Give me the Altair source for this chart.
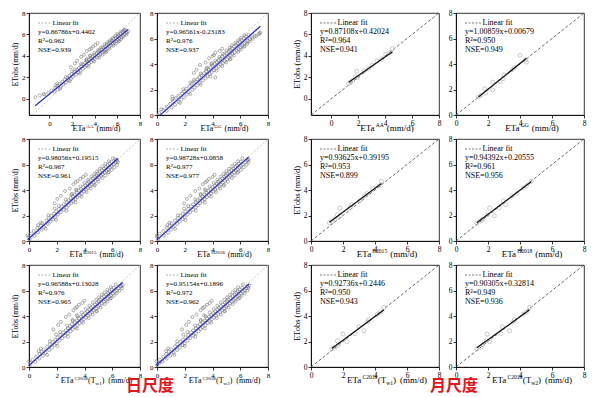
import altair as alt
import pandas as pd

SERIF = "Liberation Serif"

# ---------------- daily data (mm/d) ----------------
ETOBS_DAY = [
    0.15, 0.32, 0.41, 0.58, 0.66, 0.79, 0.88, 1.02, 1.10, 1.21,
    1.33, 1.38, 1.52, 1.60, 1.71, 1.79, 1.86, 1.98, 2.07, 2.14,
    2.26, 2.31, 2.45, 2.52, 2.63, 2.71, 2.80, 2.88, 2.97, 3.05,
    3.12, 3.21, 3.28, 3.36, 3.44, 3.51, 3.58, 3.66, 3.73, 3.80,
    3.87, 3.95, 4.02, 4.08, 4.16, 4.23, 4.30, 4.37, 4.43, 4.51,
    4.58, 4.64, 4.71, 4.78, 4.85, 4.91, 4.98, 5.04, 5.11, 5.17,
    5.24, 5.30, 5.37, 5.43, 5.50, 5.56, 5.62, 5.69, 5.75, 5.82,
    5.88, 5.95, 6.01, 6.08, 6.15, 6.22, 6.30, 6.41, 3.92, 4.45,
    4.88, 3.55, 4.12, 4.62, 5.02, 3.30, 2.95, 4.70, 5.20, 1.45,
    0.45, 0.95, 1.25, 1.65, 2.02, 2.38, 2.75, 3.02, 3.25, 3.48,
    3.62, 3.84, 3.98, 4.12, 4.28, 4.40, 4.55, 4.66, 4.80, 4.94,
    5.06, 5.14, 5.27, 5.35, 5.46, 5.58, 5.66, 5.78, 5.85, 5.98,
    6.05, 6.18, 6.26, 6.35, 4.05, 4.35, 3.70, 5.40, 2.55, 6.48]

ETA_AA_DAY = [
    -1.25, -0.85, -0.45, -0.10, 0.45, 0.20, 0.75, 0.50, 1.00, 0.70,
    1.25, 0.90, 1.45, 1.15, 1.70, 1.35, 1.90, 1.60, 2.10, 1.75,
    2.35, 1.95, 2.55, 2.20, 2.75, 2.45, 2.95, 2.60, 3.15, 2.80,
    3.30, 2.95, 3.50, 3.15, 3.70, 3.30, 3.85, 3.50, 4.00, 3.65,
    4.20, 3.80, 4.35, 3.95, 4.50, 4.15, 4.70, 4.30, 4.85, 4.45,
    5.00, 4.60, 5.15, 4.75, 5.30, 4.90, 5.45, 5.05, 5.60, 5.20,
    5.75, 5.35, 5.90, 5.50, 6.05, 5.65, 6.20, 5.85, 6.35, 6.00,
    6.50, 6.10, 6.65, 6.30, 6.80, 6.45, 6.95, 6.70, 2.80, 3.30,
    3.85, 2.45, 3.05, 3.55, 4.05, 2.25, 1.90, 3.70, 4.25, 0.70,
    -0.50, 0.95, 0.55, 1.80, 1.45, 2.70, 2.25, 3.45, 2.80, 3.95,
    3.25, 4.40, 3.60, 4.70, 3.95, 5.05, 4.30, 5.30, 4.55, 5.65,
    4.85, 5.85, 5.10, 6.10, 5.35, 6.35, 5.60, 6.55, 5.80, 6.80,
    6.00, 6.85, 6.30, 6.55, 3.60, 4.95, 3.30, 6.15, 2.00, 6.60]

ETA_GG_DAY = [
    0.15, 0.70, 0.45, 1.05, 0.70, 1.30, 0.95, 1.55, 1.15, 1.75,
    1.35, 1.95, 1.55, 2.15, 1.80, 2.30, 1.95, 2.55, 2.10, 2.70,
    2.35, 2.90, 2.50, 3.10, 2.70, 3.30, 2.90, 3.50, 3.05, 3.65,
    3.20, 3.80, 3.40, 3.95, 3.55, 4.10, 3.70, 4.30, 3.85, 4.45,
    4.00, 4.60, 4.15, 4.75, 4.30, 4.90, 4.45, 5.05, 4.55, 5.20,
    4.70, 5.30, 4.85, 5.45, 5.00, 5.60, 5.15, 5.75, 5.25, 5.90,
    5.40, 6.00, 5.55, 6.15, 5.70, 6.30, 5.80, 6.45, 5.95, 6.55,
    6.10, 6.70, 6.25, 6.85, 6.40, 7.05, 6.60, 7.40, 3.10, 3.75,
    4.20, 2.85, 3.50, 4.00, 4.50, 2.65, 4.20, 4.10, 4.70, 1.10,
    0.30, 1.65, 1.10, 2.40, 1.90, 3.15, 2.65, 3.85, 3.15, 4.30,
    3.55, 4.70, 3.90, 5.00, 4.20, 5.30, 4.50, 5.55, 4.75, 5.85,
    5.00, 6.05, 5.25, 6.25, 5.40, 6.50, 5.65, 6.70, 5.85, 6.90,
    6.05, 7.15, 6.30, 7.35, 3.95, 5.25, 3.60, 6.30, 2.40, 7.45]

ETA_B2015_DAY = [
    0.05, -0.05, 0.40, 0.15, 0.65, 0.35, 0.90, 0.60, 1.10, 0.85,
    1.35, 0.95, 1.55, 1.25, 1.75, 1.40, 1.90, 1.60, 2.10, 1.80,
    2.30, 1.95, 2.50, 2.15, 2.70, 2.35, 2.85, 2.50, 3.05, 2.70,
    3.20, 2.85, 3.35, 3.00, 3.50, 3.15, 3.65, 3.30, 3.80, 3.45,
    3.95, 3.60, 4.10, 3.75, 4.25, 3.90, 4.40, 4.05, 4.50, 4.20,
    4.65, 4.30, 4.80, 4.45, 4.95, 4.60, 5.05, 4.75, 5.20, 4.85,
    5.30, 4.95, 5.45, 5.10, 5.60, 5.25, 5.70, 5.40, 5.85, 5.55,
    5.95, 5.65, 6.10, 5.80, 6.25, 5.95, 6.35, 6.20, 2.60, 3.20,
    3.70, 2.30, 2.95, 3.35, 3.90, 2.05, 1.85, 3.50, 4.10, 0.85,
    -0.10, 1.20, 0.65, 1.95, 1.40, 2.70, 2.15, 3.35, 2.65, 3.80,
    3.05, 4.15, 3.40, 4.45, 3.70, 4.75, 4.00, 5.00, 4.25, 5.30,
    4.50, 5.50, 4.70, 5.70, 4.90, 5.95, 5.10, 6.15, 5.30, 6.35,
    5.50, 6.40, 5.75, 6.30, 3.40, 4.70, 3.10, 5.75, 1.85, 6.05]

ETA_H2018_DAY = [
    0.10, 0.00, 0.50, 0.20, 0.80, 0.45, 1.00, 0.70, 1.20, 0.90,
    1.45, 1.05, 1.65, 1.30, 1.85, 1.50, 2.00, 1.70, 2.20, 1.85,
    2.40, 2.05, 2.60, 2.25, 2.80, 2.45, 2.95, 2.60, 3.10, 2.80,
    3.30, 2.90, 3.45, 3.10, 3.60, 3.25, 3.75, 3.40, 3.90, 3.55,
    4.05, 3.70, 4.20, 3.85, 4.35, 4.00, 4.50, 4.15, 4.60, 4.30,
    4.75, 4.40, 4.90, 4.55, 5.05, 4.70, 5.15, 4.85, 5.30, 4.95,
    5.40, 5.05, 5.55, 5.20, 5.70, 5.35, 5.80, 5.50, 5.95, 5.65,
    6.05, 5.75, 6.20, 5.90, 6.35, 6.05, 6.50, 6.60, 2.75, 3.30,
    3.75, 2.40, 3.05, 3.50, 4.00, 2.15, 1.95, 3.60, 4.15, 0.90,
    0.00, 1.30, 0.75, 2.05, 1.50, 2.80, 2.25, 3.45, 2.75, 3.90,
    3.15, 4.25, 3.50, 4.55, 3.80, 4.85, 4.10, 5.10, 4.35, 5.40,
    4.60, 5.60, 4.80, 5.80, 5.00, 6.05, 5.20, 6.25, 5.40, 6.45,
    5.60, 6.60, 5.85, 6.55, 3.45, 4.80, 3.15, 5.85, 1.95, 6.15]

ETA_C2018W1_DAY = [
    0.05, 0.10, 0.45, 0.25, 0.75, 0.50, 1.00, 0.75, 1.20, 0.90,
    1.45, 1.05, 1.65, 1.30, 1.85, 1.50, 2.00, 1.70, 2.20, 1.90,
    2.40, 2.05, 2.60, 2.25, 2.80, 2.45, 3.00, 2.65, 3.15, 2.80,
    3.35, 2.95, 3.50, 3.10, 3.65, 3.30, 3.80, 3.45, 3.95, 3.60,
    4.10, 3.75, 4.25, 3.90, 4.40, 4.05, 4.55, 4.20, 4.65, 4.35,
    4.85, 4.45, 5.00, 4.60, 5.10, 4.75, 5.25, 4.90, 5.40, 5.00,
    5.55, 5.10, 5.65, 5.25, 5.80, 5.40, 5.90, 5.55, 6.05, 5.70,
    6.20, 5.80, 6.35, 5.95, 6.45, 6.10, 6.60, 6.75, 2.65, 3.20,
    3.60, 2.30, 2.90, 3.35, 3.85, 2.10, 1.75, 3.45, 4.00, 0.85,
    0.00, 1.30, 0.70, 2.05, 1.50, 2.80, 2.25, 3.45, 2.75, 3.90,
    3.15, 4.30, 3.50, 4.60, 3.80, 4.90, 4.10, 5.15, 4.35, 5.45,
    4.60, 5.65, 4.85, 5.85, 5.05, 6.10, 5.25, 6.30, 5.45, 6.50,
    5.65, 6.70, 5.90, 6.65, 3.45, 4.85, 3.15, 5.90, 1.95, 6.25]

ETA_C2018W2_DAY = [
    0.00, 0.15, 0.40, 0.20, 0.70, 0.45, 0.95, 0.65, 1.20, 0.85,
    1.45, 1.05, 1.65, 1.30, 1.85, 1.45, 2.00, 1.70, 2.20, 1.85,
    2.40, 2.05, 2.60, 2.25, 2.80, 2.45, 3.00, 2.60, 3.15, 2.80,
    3.30, 2.95, 3.50, 3.10, 3.65, 3.30, 3.80, 3.45, 3.95, 3.60,
    4.10, 3.75, 4.25, 3.90, 4.40, 4.05, 4.55, 4.20, 4.70, 4.35,
    4.85, 4.45, 5.00, 4.60, 5.10, 4.75, 5.25, 4.90, 5.40, 5.05,
    5.55, 5.10, 5.65, 5.30, 5.80, 5.45, 5.90, 5.60, 6.05, 5.70,
    6.20, 5.80, 6.35, 5.95, 6.45, 6.15, 6.55, 6.65, 2.55, 3.15,
    3.60, 2.30, 2.85, 3.30, 3.80, 2.10, 1.80, 3.40, 3.95, 0.80,
    -0.05, 1.25, 0.65, 2.00, 1.45, 2.75, 2.20, 3.45, 2.75, 3.90,
    3.15, 4.30, 3.50, 4.60, 3.80, 4.90, 4.10, 5.15, 4.35, 5.45,
    4.60, 5.65, 4.85, 5.85, 5.05, 6.10, 5.25, 6.30, 5.45, 6.50,
    5.65, 6.60, 5.85, 6.50, 3.40, 4.85, 3.15, 5.95, 1.90, 6.20]

# ---------------- monthly data (mm/d) ----------------
ETOBS_MON = [1.42, 1.55, 1.72, 1.98, 2.05, 2.58, 2.62, 2.85, 3.15, 3.55, 3.72, 4.15, 4.32, 4.68]
ETA_AA_MON = [1.30, 1.45, 1.60, 1.95, 1.80, 1.90, 2.45, 2.80, 3.05, 3.40, 3.75, 4.05, 4.35, 4.55]
ETA_GG_MON = [1.40, 1.55, 1.85, 2.30, 1.80, 2.30, 2.75, 2.95, 3.00, 3.50, 3.65, 4.40, 4.35, 4.00]
ETA_B2015_MON = [1.15, 1.30, 1.50, 1.85, 1.65, 1.80, 2.45, 2.55, 3.05, 3.35, 3.50, 3.85, 4.25, 4.40]
ETA_H2018_MON = [1.30, 1.55, 1.65, 2.40, 1.95, 2.10, 2.70, 3.10, 2.95, 3.50, 3.80, 4.20, 4.40, 4.70]
ETA_C2018W1_MON = [1.30, 1.50, 1.70, 2.25, 1.65, 2.00, 2.75, 3.30, 3.00, 3.55, 3.60, 4.15, 4.35, 4.55]
ETA_C2018W2_MON = [1.30, 1.55, 1.65, 2.10, 1.90, 1.95, 2.80, 3.35, 2.90, 3.55, 3.65, 4.20, 4.40, 4.60]

# fit coefficients and annotation texts
DAY_SLOPE = [0.86786, 0.96561, 0.98056, 0.98728, 0.96588, 0.95154]
DAY_INTERCEPT = [0.4402, -0.23183, 0.19515, 0.0858, 0.13028, 0.1896]
DAY_EQ = ["y=0.86786x+0.4402", "y=0.96561x-0.23183", "y=0.98056x+0.19515",
          "y=0.98728x+0.0858", "y=0.96588x+0.13028", "y=0.95154x+0.1896"]
DAY_R2 = ["R²=0.962", "R²=0.976", "R²=0.967", "R²=0.977", "R²=0.976", "R²=0.972"]
DAY_NSE = ["NSE=0.939", "NSE=0.937", "NSE=0.961", "NSE=0.977", "NSE=0.965", "NSE=0.962"]

MON_SLOPE = [0.87108, 1.00859, 0.93625, 0.94392, 0.92736, 0.90305]
MON_INTERCEPT = [0.42024, 0.00679, 0.39195, 0.20555, 0.2446, 0.32814]
MON_EQ = ["y=0.87108x+0.42024", "y=1.00859x+0.00679", "y=0.93625x+0.39195",
          "y=0.94392x+0.20555", "y=0.92736x+0.2446", "y=0.90305x+0.32814"]
MON_R2 = ["R²=0.964", "R²=0.950", "R²=0.953", "R²=0.961", "R²=0.950", "R²=0.949"]
MON_NSE = ["NSE=0.941", "NSE=0.949", "NSE=0.899", "NSE=0.956", "NSE=0.943", "NSE=0.936"]

TICKS = [0, 2, 4, 6, 8]

# x-axis title pieces: (text, kind, gap before)
TITLES = [
    [("ETa", "n", 0), ("AA", "sup", 0.5), ("(mm/d)", "n", 3)],
    [("ETa", "n", 0), ("GG", "sup", 0.5), ("(mm/d)", "n", 3)],
    [("ETa", "n", 0), ("B2015", "sup", 0.5), ("(mm/d)", "n", 3)],
    [("ETa", "n", 0), ("H2018", "sup", 0.5), ("(mm/d)", "n", 3)],
    [("ETa", "n", 0), ("C2018", "sup", 0.5), ("(T", "n", 0.3), ("w1", "sub", 0),
     (")", "n", 0), ("(mm/d)", "n", 4)],
    [("ETa", "n", 0), ("C2018", "sup", 0.5), ("(T", "n", 0.3), ("w2", "sub", 0),
     (")", "n", 0), ("(mm/d)", "n", 4)],
]

CW = {' ': 250, '(': 333, ')': 333, '/': 278, 'A': 722, 'B': 667, 'C': 667, 'E': 611,
      'G': 722, 'H': 722, 'R': 667, 'T': 611, 'a': 444, 'd': 500, 'm': 778, 'w': 722}


def twidth(s, fs):
    return sum(CW.get(c, 500) for c in s) * fs / 1000.0


def txt(s, px, py, fs, color="black", align="left", font=SERIF, weight="normal",
        baseline="alphabetic"):
    return alt.Chart(pd.DataFrame({"t": [s]})).mark_text(
        align=align, baseline=baseline, font=font, fontSize=fs, color=color,
        fontWeight=weight).encode(x=alt.value(float(px)), y=alt.value(float(py)),
                                  text="t:N")


def title_layers(pieces, cx, by, fs):
    sfs = fs * 0.62
    total = 0
    for s, k, g in pieces:
        total += g + twidth(s, fs if k == "n" else sfs)
    x = cx - total / 2
    out = []
    for s, k, g in pieces:
        x += g
        if k == "n":
            out.append(txt(s, x, by, fs))
            x += twidth(s, fs)
        elif k == "sup":
            out.append(txt(s, x, by - fs * 0.42, sfs))
            x += twidth(s, sfs)
        else:
            out.append(txt(s, x, by + fs * 0.22, sfs))
            x += twidth(s, sfs)
    return out


def panel(xs, ys, slope, icpt, eq, r2, nse, title, lo_x, lo_y, w, h, monthly,
          ytitle, extra=None):
    lab_fs = 7.5 if monthly else 7
    xsc = alt.Scale(domain=[lo_x, 8], nice=False, zero=False)
    ysc = alt.Scale(domain=[lo_y, 8], nice=False, zero=False)
    common = dict(values=TICKS, labelFontSize=lab_fs, format="d", labelOverlap=False,
                  labelBound=False, labelFlush=False, labelSeparation=0)
    xax = alt.Axis(title=None, **common)
    if ytitle:
        yax = alt.Axis(title="ETobs (mm/d)", titleFontSize=8.5 if monthly else 7.5,
                       titlePadding=2, **common)
    else:
        yax = alt.Axis(title=None, **common)
    X = alt.X("x:Q", scale=xsc, axis=xax)
    Y = alt.Y("y:Q", scale=ysc, axis=yax)
    lo = max(lo_x, lo_y)
    diag = alt.Chart(pd.DataFrame({"x": [lo, 8], "y": [lo, 8]})).mark_line(
        color="#444444" if monthly else "#b5b5b5", strokeDash=[3, 2] if monthly else [2, 2],
        strokeWidth=0.8).encode(x=X, y=Y)
    pts = alt.Chart(pd.DataFrame({"x": xs, "y": ys})).mark_point(
        shape="circle", filled=False, size=16 if monthly else 9,
        strokeWidth=0.8 if monthly else 0.6,
        color="#bdbdbd" if monthly else "#7a7a7a", opacity=1).encode(x=X, y=Y)
    fx = [min(xs), max(xs)]
    fit = alt.Chart(pd.DataFrame({"x": fx, "y": [slope * v + icpt for v in fx]})).mark_line(
        color="#111111" if monthly else "#2a2ad6", strokeWidth=1.2).encode(x=X, y=Y)

    lfs = 8 if monthly else 7
    l0, l1 = (9, 26) if monthly else (9, 23)
    dash = alt.Chart(pd.DataFrame({"t": [""]})).mark_rule(
        color="#555555" if monthly else "#9a9a9a", strokeDash=[2, 1.5], strokeWidth=0.8
    ).encode(x=alt.value(l0), x2=alt.value(l1), y=alt.value(10))
    legend = [dash,
              txt("Linear fit", l1 + 0.5, 10, lfs, baseline="middle"),
              txt(eq, l0, 19, lfs, baseline="middle"),
              txt(r2, l0, 28, lfs, baseline="middle"),
              txt(nse, l0, 37, lfs, baseline="middle")]
    tfs = 9 if monthly else 8
    tl = title_layers(title, w / 2 + 12, h + 16, tfs)
    layers = [diag, pts, fit] + legend + tl
    if extra is not None:
        layers.append(extra)
    return alt.layer(*layers).properties(width=w, height=h)


DAY_X = [ETA_AA_DAY, ETA_GG_DAY, ETA_B2015_DAY, ETA_H2018_DAY, ETA_C2018W1_DAY, ETA_C2018W2_DAY]
MON_X = [ETA_AA_MON, ETA_GG_MON, ETA_B2015_MON, ETA_H2018_MON, ETA_C2018W1_MON, ETA_C2018W2_MON]

DW, DH = 111, 102
MW, MH = 128, 102
CJK = "Noto Sans CJK SC"

day_panels = []
mon_panels = []
for i in range(6):
    lox, loy = (-1.8, -1.5) if i == 0 else (0, 0)
    extra = None
    if i == 4:
        extra = txt("日尺度", 121, 121, 16, color="#e8141c", align="center", font=CJK,
                    weight="bold", baseline="middle")
    day_panels.append(panel(DAY_X[i], ETOBS_DAY, DAY_SLOPE[i], DAY_INTERCEPT[i], DAY_EQ[i],
                            DAY_R2[i], DAY_NSE[i], TITLES[i], lox, loy, DW, DH, False,
                            i % 2 == 0, extra))
    mlo = -1.5 if i == 0 else 0
    extra = None
    if i == 4:
        extra = txt("月尺度", 143, 121, 16, color="#e8141c", align="center", font=CJK,
                    weight="bold", baseline="middle")
    mon_panels.append(panel(MON_X[i], ETOBS_MON, MON_SLOPE[i], MON_INTERCEPT[i], MON_EQ[i],
                            MON_R2[i], MON_NSE[i], TITLES[i], mlo, mlo, MW, MH, True,
                            i % 2 == 0, extra))


def spacer():
    return alt.Chart(pd.DataFrame({"t": [""]})).mark_point(opacity=0, size=1).encode(
        x=alt.value(4), y=alt.value(DH / 2)
    ).properties(width=9, height=DH, view=alt.ViewBackground(stroke="transparent"))


cells = []
for r in range(3):
    cells += [day_panels[2 * r], day_panels[2 * r + 1], spacer(),
              mon_panels[2 * r], mon_panels[2 * r + 1]]

chart = alt.concat(*cells, columns=5, spacing={"row": 24, "column": 17},
                   bounds="flush", align="each").properties(
    padding={"left": 3, "top": 0, "right": 3, "bottom": 0}
).configure_axis(
    labelFont=SERIF, titleFont=SERIF, labelColor="black", titleColor="black",
    domainColor="black", tickColor="black", tickSize=3, labelPadding=1, grid=False,
    titleFontWeight="normal", domainWidth=0.8, tickWidth=0.8, labelOverlap=False
).configure_view(stroke="black", strokeWidth=0.8)

chart.save("out.html", embed_options={"renderer": "svg", "actions": False})
